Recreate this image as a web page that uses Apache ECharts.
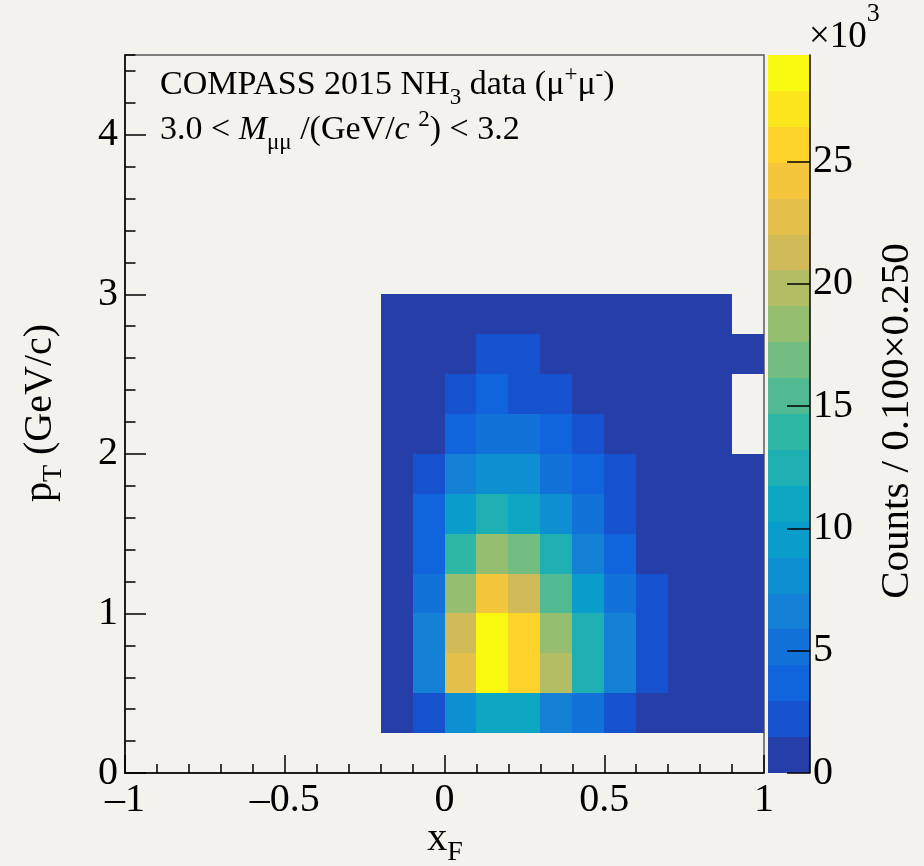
<!DOCTYPE html>
<html>
<head>
<meta charset="utf-8">
<script src="https://cdn.jsdelivr.net/npm/echarts@6/dist/echarts.min.js"></script>
<style>
  html, body { margin: 0; padding: 0; background: #f4f2ed; }
  #chart { width: 924px; height: 866px; }
</style>
</head>
<body>
<div id="chart"></div>
<script>
// ---- binning (lower bin edges) ----
const xF_binLow = [-0.2, -0.1, 0.0, 0.1, 0.2, 0.3, 0.4, 0.5, 0.6, 0.7, 0.8, 0.9];
const pT_binLow = [0.25, 0.50, 0.75, 1.00, 1.25, 1.50, 1.75, 2.00, 2.25, 2.50, 2.75];
const xF_binWidth = 0.1;
const pT_binWidth = 0.25;

// ---- counts per bin: one array per pT row, xF from -0.2 to 1.0 (null = empty bin) ----
const counts_pT_0p25 = [900, 2300, 8100, 11300, 10800, 6800, 5000, 2200, 1100, 600, 400, 250];
const counts_pT_0p50 = [900, 6500, 22800, 28600, 25500, 19900, 12600, 6400, 2600, 1200, 700, 400];
const counts_pT_0p75 = [1000, 7000, 21300, 29350, 25900, 18300, 12400, 6900, 2500, 1100, 600, 300];
const counts_pT_1p00 = [1100, 5200, 18400, 24300, 21200, 15300, 9600, 5000, 2100, 1000, 600, 300];
const counts_pT_1p25 = [900, 3800, 14000, 18000, 16900, 12300, 6700, 3500, 1300, 800, 500, 250];
const counts_pT_1p50 = [700, 3500, 9800, 12600, 11000, 8000, 5300, 2400, 1100, 600, 400, 200];
const counts_pT_1p75 = [800, 2500, 6600, 8200, 8000, 5400, 3900, 2000, 900, 500, 300, 150];
const counts_pT_2p00 = [500, 1300, 3700, 4900, 4600, 3600, 2400, 1200, 700, 400, 200, null];
const counts_pT_2p25 = [400, 1100, 2300, 3300, 2600, 2000, 1200, 800, 500, 300, 150, null];
const counts_pT_2p50 = [300, 800, 1400, 2000, 1800, 1300, 900, 500, 300, 200, 100, 50];
const counts_pT_2p75 = [200, 500, 900, 1200, 1100, 900, 600, 400, 200, 100, 60, null];
const countRows = [counts_pT_0p25, counts_pT_0p50, counts_pT_0p75, counts_pT_1p00, counts_pT_1p25,
                   counts_pT_1p50, counts_pT_1p75, counts_pT_2p00, counts_pT_2p25, counts_pT_2p50, counts_pT_2p75];

// ---- tick labels ----
const xTickValues = [-1, -0.5, 0, 0.5, 1];
const yTickValues = [0, 1, 2, 3, 4];
const zTickValues = [0, 5, 10, 15, 20, 25];   // in units of 10^3

// ---- kBird palette, 20 contour levels ----
const birdStops = [0.0000, 0.1250, 0.2500, 0.3750, 0.5000, 0.6250, 0.7500, 0.8750, 1.0000];
const birdR = [0.2082, 0.0592, 0.0780, 0.0232, 0.1802, 0.5301, 0.8186, 0.9956, 0.9764];
const birdG = [0.1664, 0.3599, 0.5041, 0.6419, 0.7178, 0.7492, 0.7328, 0.7862, 0.9832];
const birdB = [0.5293, 0.8684, 0.8385, 0.7914, 0.6425, 0.4662, 0.3499, 0.1968, 0.0539];
const nContours = 20;

function gradientTable(nColors) {
  const table = [];
  for (let g = 1; g < birdStops.length; g++) {
    const n = Math.floor(nColors * birdStops[g]) - Math.floor(nColors * birdStops[g - 1]);
    for (let c = 0; c < n; c++) {
      const t = c / n;
      table.push([
        birdR[g - 1] + t * (birdR[g] - birdR[g - 1]),
        birdG[g - 1] + t * (birdG[g] - birdG[g - 1]),
        birdB[g - 1] + t * (birdB[g] - birdB[g - 1])
      ]);
    }
  }
  return table;
}
const table = gradientTable(255);
const contourColors = [];
for (let k = 0; k < nContours; k++) {
  const idx = Math.floor((k + 0.99) * table.length / nContours);
  const c = table[idx];
  contourColors.push('rgb(' + Math.round(c[0] * 255) + ',' + Math.round(c[1] * 255) + ',' + Math.round(c[2] * 255) + ')');
}

// ---- histogram cells ----
const cells = [];
let zMax = 0;
countRows.forEach(function (row, j) {
  row.forEach(function (v, i) {
    if (v === null) return;
    cells.push([xF_binLow[i], pT_binLow[j], v]);
    if (v > zMax) zMax = v;
  });
});
const zStep = zMax / nContours;
const pieces = contourColors.map(function (col, k) {
  return k === nContours - 1 ? { gte: k * zStep, lte: zMax, color: col }
                             : { gte: k * zStep, lt: (k + 1) * zStep, color: col };
});
// colour-bar bands in units of 10^3
const bands = contourColors.map(function (col, k) { return [k * zStep / 1000, (k + 1) * zStep / 1000, k]; });

const FONT = "'Liberation Serif', 'Times New Roman', serif";
const INK = '#000';

const chart = echarts.init(document.getElementById('chart'), null, { renderer: 'canvas' });

const labelFmt = function (v) { return String(v).replace('-', '\u2013'); };

chart.setOption({
  backgroundColor: '#f4f2ed',
  animation: false,
  grid: [
    { left: 125, top: 55, width: 639, height: 718, show: true, borderColor: '#5a5a5a', borderWidth: 1.5, backgroundColor: 'transparent' },
    { left: 768, top: 55, width: 42, height: 718 },
    { left: 125, top: 55, width: 639, height: 718 }
  ],
  xAxis: [
    {
      gridIndex: 0, type: 'value', min: -1, max: 1, interval: 0.5, z: 5,
      axisLine: { show: true, onZero: false, lineStyle: { color: INK, width: 1.5 } },
      axisTick: { show: true, inside: true, length: 18, lineStyle: { color: INK, width: 1.5 } },
      minorTick: { show: true, splitNumber: 5, length: 9, lineStyle: { color: INK, width: 1.5 } },
      splitLine: { show: false }, minorSplitLine: { show: false },
      axisLabel: { show: true, color: INK, fontFamily: FONT, fontSize: 40, margin: 7, formatter: labelFmt,
                   customValues: xTickValues }
    },
    { gridIndex: 1, type: 'value', min: 0, max: 1, show: false },
    { gridIndex: 2, type: 'value', min: -1, max: 1, show: false }
  ],
  yAxis: [
    {
      gridIndex: 0, type: 'value', min: 0, max: 4.5, interval: 1, position: 'left', z: 5,
      axisLine: { show: true, onZero: false, lineStyle: { color: INK, width: 1.5 } },
      axisTick: { show: true, inside: true, length: 21, lineStyle: { color: INK, width: 1.5 }, customValues: yTickValues },
      splitLine: { show: false },
      axisLabel: { show: true, color: INK, fontFamily: FONT, fontSize: 40, margin: 7, customValues: yTickValues }
    },
    {
      gridIndex: 1, type: 'value', min: 0, max: zMax / 1000, position: 'right', z: 5,
      axisLine: { show: true, onZero: false, lineStyle: { color: INK, width: 1.5 } },
      axisTick: { show: true, inside: true, length: 23, lineStyle: { color: INK, width: 1.5 }, customValues: zTickValues },
      splitLine: { show: false },
      axisLabel: { show: true, color: INK, fontFamily: FONT, fontSize: 40, margin: 3, customValues: zTickValues }
    },
    {
      // minor ticks on the pT axis
      gridIndex: 2, type: 'value', min: 0, max: 4.5, interval: 0.2, position: 'left', z: 5,
      axisLine: { show: false, onZero: false },
      axisTick: { show: true, inside: true, length: 10.5, lineStyle: { color: INK, width: 1.5 } },
      axisLabel: { show: false }, splitLine: { show: false }
    }
  ],
  visualMap: {
    type: 'piecewise', show: false, seriesIndex: 0, dimension: 2, pieces: pieces
  },
  series: [
    {
      type: 'custom', name: 'counts', xAxisIndex: 0, yAxisIndex: 0, z: 1,
      data: cells, encode: { x: 0, y: 1 },
      renderItem: function (params, api) {
        const x0 = api.value(0), y0 = api.value(1);
        const a = api.coord([x0, y0 + pT_binWidth]);
        const b = api.coord([x0 + xF_binWidth, y0]);
        const l = Math.round(a[0]), t = Math.round(a[1]);
        const r = Math.round(b[0]), bt = Math.round(b[1]);
        return { type: 'rect', shape: { x: l, y: t, width: r - l, height: bt - t },
                 style: { fill: api.visual('color') } };
      }
    },
    {
      type: 'custom', name: 'palette', xAxisIndex: 1, yAxisIndex: 1, z: 1,
      data: bands, encode: { y: [0, 1] },
      renderItem: function (params, api) {
        const a = api.coord([0, api.value(1)]);
        const b = api.coord([1, api.value(0)]);
        const t = Math.round(a[1]), bt = Math.round(b[1]);
        return { type: 'rect', shape: { x: a[0], y: t, width: b[0] - a[0], height: bt - t },
                 style: { fill: contourColors[api.value(2)] } };
      }
    }
  ],
  graphic: [
    {
      type: 'text', x: 160, y: 85, z: 10,
      style: {
        text: '{t|COMPASS 2015 NH}{sub|3}{t| data (\u03bc}{sup|+}{t|\u03bc}{sup|-}{t|)}',
        align: 'left', verticalAlign: 'middle',
        rich: {
          t: { fontFamily: FONT, fontSize: 34, fill: INK },
          sub: { fontFamily: FONT, fontSize: 23, fill: INK, padding: [26, 0, 0, 0] },
          sup: { fontFamily: FONT, fontSize: 23, fill: INK, padding: [0, 0, 20, 0] }
        }
      }
    },
    {
      type: 'text', x: 160, y: 130, z: 10,
      style: {
        text: '{t|3.0 < }{i|M}{sub|\u03bc\u03bc}{t| /(GeV/}{i|c}{t| }{sup|2}{t|) < 3.2}',
        align: 'left', verticalAlign: 'middle',
        rich: {
          t: { fontFamily: FONT, fontSize: 34, fill: INK },
          i: { fontFamily: FONT, fontSize: 34, fontStyle: 'italic', fill: INK },
          sub: { fontFamily: FONT, fontSize: 23, fill: INK, padding: [26, 0, 0, 0] },
          sup: { fontFamily: FONT, fontSize: 23, fill: INK, padding: [0, 0, 20, 0] }
        }
      }
    },
    {
      type: 'text', x: 445, y: 839, z: 10,
      style: {
        text: '{a|x}{s|F}',
        align: 'center', verticalAlign: 'middle',
        rich: {
          a: { fontFamily: FONT, fontSize: 40, fill: INK },
          s: { fontFamily: FONT, fontSize: 28, fill: INK, padding: [28, 0, 0, 0] }
        }
      }
    },
    {
      type: 'text', x: 40, y: 413, rotation: Math.PI / 2, z: 10,
      style: {
        text: '{a|p}{s|T}{a| (GeV/c)}',
        align: 'center', verticalAlign: 'middle',
        rich: {
          a: { fontFamily: FONT, fontSize: 40, fill: INK },
          s: { fontFamily: FONT, fontSize: 28, fill: INK, padding: [28, 0, 0, 0] }
        }
      }
    },
    {
      type: 'text', x: 897, y: 421, rotation: Math.PI / 2, z: 10,
      style: {
        text: 'Counts / 0.100\u00d70.250',
        align: 'center', verticalAlign: 'middle',
        fontFamily: FONT, fontSize: 41, fill: INK
      }
    },
    {
      type: 'text', x: 809, y: 37, z: 10,
      style: {
        text: '{a|\u00d710}{s|3}',
        align: 'left', verticalAlign: 'middle',
        rich: {
          a: { fontFamily: FONT, fontSize: 37, fill: INK },
          s: { fontFamily: FONT, fontSize: 26, fill: INK, padding: [0, 0, 46, 0] }
        }
      }
    }
  ]
});
</script>
</body>
</html>
